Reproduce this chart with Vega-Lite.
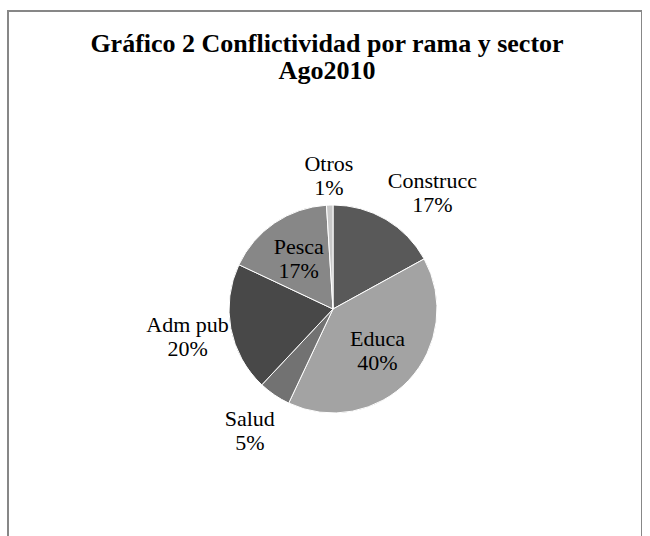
{
  "$schema": "https://vega.github.io/schema/vega-lite/v6.json",
  "autosize": "none",
  "padding": {"left": 8, "top": 11, "right": 0, "bottom": 0},
  "width": 634,
  "height": 596,
  "background": "white",
  "view": {"stroke": "#878787", "strokeWidth": 2, "fill": "white"},
  "title": {
    "text": ["Gráfico 2 Conflictividad por rama y sector", "Ago2010"],
    "font": "Liberation Serif",
    "fontSize": 26,
    "fontWeight": "bold",
    "color": "black",
    "anchor": "middle",
    "frame": "group",
    "lineHeight": 27,
    "offset": -73,
    "dx": 2
  },
  "data": {
    "values": [
      {"order": 1, "sector": "Construcc", "share": 0.17},
      {"order": 2, "sector": "Educa", "share": 0.40},
      {"order": 3, "sector": "Salud", "share": 0.05},
      {"order": 4, "sector": "Adm pub", "share": 0.20},
      {"order": 5, "sector": "Pesca", "share": 0.17},
      {"order": 6, "sector": "Otros", "share": 0.01}
    ]
  },
  "encoding": {
    "theta": {"field": "share", "type": "quantitative", "stack": true, "scale": {"domain": [0, 1]}},
    "order": {"field": "order", "type": "quantitative", "sort": "ascending"}
  },
  "layer": [
    {
      "mark": {"type": "arc", "outerRadius": 104, "stroke": "white", "strokeWidth": 1, "xOffset": 8},
      "encoding": {
        "color": {
          "field": "sector", "type": "nominal", "legend": null,
          "scale": {
            "domain": ["Construcc", "Educa", "Salud", "Adm pub", "Pesca", "Otros"],
            "range": ["#595959", "#a3a3a3", "#727272", "#484848", "#878787", "#c8c8c8"]
          }
        }
      }
    },
    {
      "mark": {"type": "text", "radius": 61, "xOffset": 8, "dy": -12, "font": "Liberation Serif", "fontSize": 22, "color": "black", "baseline": "middle", "align": "center"},
      "encoding": {"text": {"condition": {"test": "datum.sector === 'Pesca' || datum.sector === 'Educa'", "field": "sector", "type": "nominal"}, "value": ""}}
    },
    {
      "mark": {"type": "text", "radius": 61, "xOffset": 8, "dy": 12, "font": "Liberation Serif", "fontSize": 22, "color": "black", "baseline": "middle", "align": "center"},
      "encoding": {"text": {"condition": {"test": "datum.sector === 'Pesca' || datum.sector === 'Educa'", "field": "share", "type": "quantitative", "format": ".0%"}, "value": ""}}
    },
    {
      "mark": {"type": "text", "radius": 148, "xOffset": 8, "dy": -12, "font": "Liberation Serif", "fontSize": 22, "color": "black", "baseline": "middle", "align": "center"},
      "encoding": {"text": {"condition": {"test": "datum.sector === 'Adm pub' || datum.sector === 'Salud'", "field": "sector", "type": "nominal"}, "value": ""}}
    },
    {
      "mark": {"type": "text", "radius": 148, "xOffset": 8, "dy": 12, "font": "Liberation Serif", "fontSize": 22, "color": "black", "baseline": "middle", "align": "center"},
      "encoding": {"text": {"condition": {"test": "datum.sector === 'Adm pub' || datum.sector === 'Salud'", "field": "share", "type": "quantitative", "format": ".0%"}, "value": ""}}
    },
    {
      "mark": {"type": "text", "radius": 133, "xOffset": 8, "dy": -12, "font": "Liberation Serif", "fontSize": 22, "color": "black", "baseline": "middle", "align": "center"},
      "encoding": {"text": {"condition": {"test": "datum.sector === 'Otros'", "field": "sector", "type": "nominal"}, "value": ""}}
    },
    {
      "mark": {"type": "text", "radius": 133, "xOffset": 8, "dy": 12, "font": "Liberation Serif", "fontSize": 22, "color": "black", "baseline": "middle", "align": "center"},
      "encoding": {"text": {"condition": {"test": "datum.sector === 'Otros'", "field": "share", "type": "quantitative", "format": ".0%"}, "value": ""}}
    },
    {
      "mark": {"type": "text", "radius": 150, "xOffset": 8, "dx": 23, "dy": 1, "font": "Liberation Serif", "fontSize": 22, "color": "black", "baseline": "middle", "align": "center"},
      "encoding": {"text": {"condition": {"test": "datum.sector === 'Construcc'", "field": "sector", "type": "nominal"}, "value": ""}}
    },
    {
      "mark": {"type": "text", "radius": 150, "xOffset": 8, "dx": 23, "dy": 25, "font": "Liberation Serif", "fontSize": 22, "color": "black", "baseline": "middle", "align": "center"},
      "encoding": {"text": {"condition": {"test": "datum.sector === 'Construcc'", "field": "share", "type": "quantitative", "format": ".0%"}, "value": ""}}
    }
  ]
}
